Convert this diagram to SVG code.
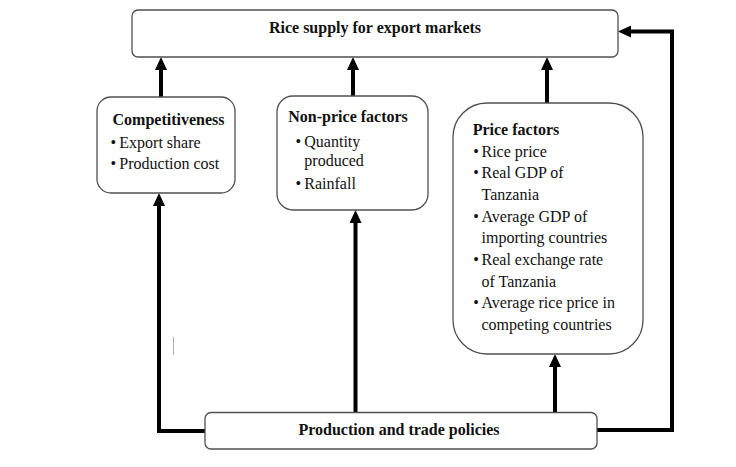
<svg xmlns="http://www.w3.org/2000/svg" width="736" height="467" viewBox="0 0 736 467">
  <style>
    .box { fill: #ffffff; stroke: #505050; stroke-width: 1.3; }
    .link { fill: none; stroke: #000000; stroke-width: 4; stroke-linejoin: miter; }
    text { font-family: 'Liberation Serif', 'Times New Roman', serif; font-size: 16px; fill: #111111; }
    .head { font-weight: bold; }
    .dot { text-anchor: middle; }
  </style>
  <defs>
    <marker id="arrow" markerUnits="userSpaceOnUse" markerWidth="13" markerHeight="12" viewBox="0 0 13 12" refX="0" refY="6" orient="auto">
      <path d="M0,0 L13,6 L0,12 Z" fill="#000000"/>
    </marker>
  </defs>
  <rect width="736" height="467" fill="#ffffff"/>

  <!-- connectors -->
  <g id="connectors">
    <line class="link" x1="161" y1="97" x2="161" y2="70" marker-end="url(#arrow)"/>
    <line class="link" x1="353" y1="96" x2="353" y2="70" marker-end="url(#arrow)"/>
    <line class="link" x1="547" y1="103" x2="547" y2="70" marker-end="url(#arrow)"/>
    <line class="link" x1="555" y1="412" x2="555" y2="367" marker-end="url(#arrow)"/>
    <line class="link" x1="355.5" y1="412" x2="355.5" y2="223" marker-end="url(#arrow)"/>
    <polyline class="link" points="205,431 159,431 159,206" marker-end="url(#arrow)"/>
    <polyline class="link" points="597,430 672,430 672,31.5 631,31.5" marker-end="url(#arrow)"/>
    <line x1="173.5" y1="337" x2="173.5" y2="355" stroke="#b0b0b0" stroke-width="1"/>
  </g>

  <!-- target -->
  <g id="export-supply">
    <rect class="box" x="132" y="10" width="486" height="47" rx="6"/>
    <text class="head" x="375" y="33" text-anchor="middle">Rice supply for export markets</text>
  </g>

  <!-- competitiveness -->
  <g id="competitiveness">
    <rect class="box" x="97" y="97" width="138" height="96" rx="14"/>
    <text class="head" x="112.5" y="125">Competitiveness</text>
    <text class="dot" x="113.3" y="147.7">•</text>
    <text x="119.3" y="147.7">Export share</text>
    <text class="dot" x="113.3" y="169">•</text>
    <text x="119.3" y="169">Production cost</text>
  </g>

  <!-- non-price factors -->
  <g id="non-price-factors">
    <rect class="box" x="277" y="96" width="151" height="114" rx="16"/>
    <text class="head" x="288.3" y="121.7">Non-price factors</text>
    <text class="dot" x="298.3" y="146.7">•</text>
    <text x="304.3" y="146.7">Quantity</text>
    <text x="304.3" y="166">produced</text>
    <text class="dot" x="298.3" y="188.5">•</text>
    <text x="304.3" y="188.5">Rainfall</text>
  </g>

  <!-- price factors -->
  <g id="price-factors">
    <rect class="box" x="453" y="103" width="190" height="251" rx="34"/>
    <text class="head" x="472.7" y="135">Price factors</text>
    <text class="dot" x="476" y="156.7">•</text>
    <text x="481.5" y="156.7">Rice price</text>
    <text class="dot" x="476" y="178.3">•</text>
    <text x="481.5" y="178.3">Real GDP of</text>
    <text x="481.5" y="200">Tanzania</text>
    <text class="dot" x="476" y="221.7">•</text>
    <text x="481.5" y="221.7">Average GDP of</text>
    <text x="481.5" y="243.3">importing countries</text>
    <text class="dot" x="476" y="265">•</text>
    <text x="481.5" y="265">Real exchange rate</text>
    <text x="481.5" y="286.7">of Tanzania</text>
    <text class="dot" x="476" y="308.3">•</text>
    <text x="481.5" y="308.3">Average rice price in</text>
    <text x="481.5" y="330">competing countries</text>
  </g>

  <!-- policies -->
  <g id="policies">
    <rect class="box" x="205" y="412.5" width="392" height="36.5" rx="6"/>
    <text class="head" x="399" y="435" text-anchor="middle">Production and trade policies</text>
  </g>
</svg>
